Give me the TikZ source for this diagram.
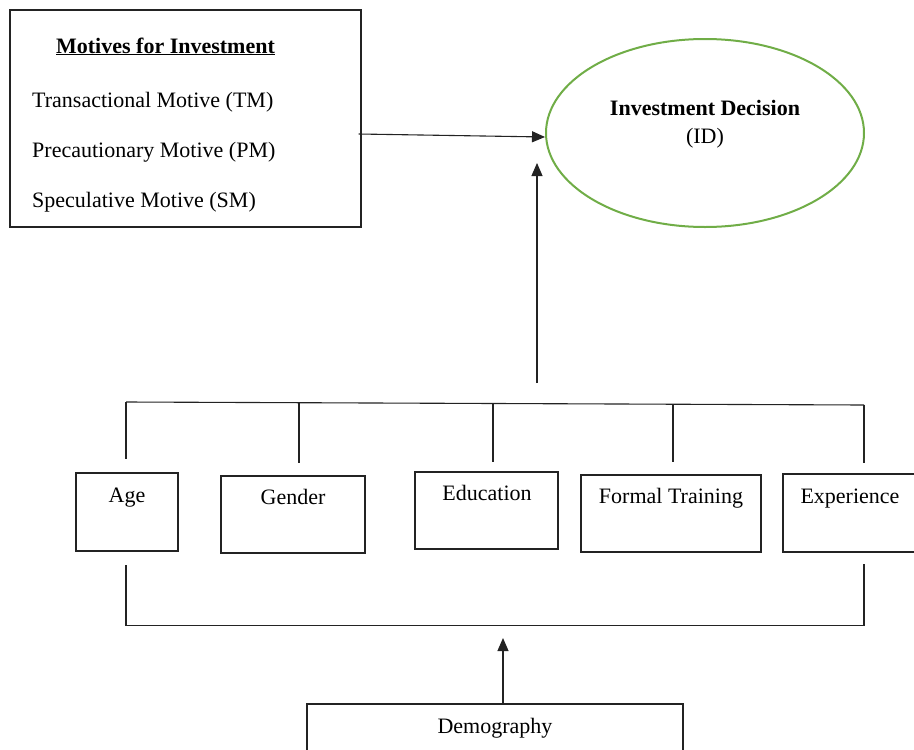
\documentclass[tikz,border=0pt]{standalone}
\usepackage{fontspec}
\setmainfont{Liberation Serif}
\usetikzlibrary{arrows.meta,shapes.geometric}
\definecolor{idgreen}{RGB}{112,173,71}
\definecolor{linegray}{RGB}{35,35,35}
\begin{document}
\begin{tikzpicture}[x=1pt,y=-1pt,
  every node/.style={font=\fontsize{22}{26}\selectfont},
  box/.style={draw=linegray,line width=1.3pt,inner sep=0pt,rectangle},
  lbl/.style={anchor=base,inner sep=0pt},
  lblw/.style={anchor=base west,inner sep=0pt},
  conn/.style={draw=linegray,line width=1.1pt},
  arr/.style={conn,-{Triangle[length=13pt,width=11pt]}}]
\useasboundingbox (0,0) rectangle (914,750);
% boxes
\node[box,minimum width=351pt,minimum height=217pt] (motives) at (185.5,118.5) {};
\node[ellipse,draw=idgreen,line width=2pt,inner sep=0pt,minimum width=318pt,minimum height=188pt] (id) at (705,133) {};
\node[box,minimum width=102pt,minimum height=78pt] (age) at (127,512) {};
\node[box,minimum width=144pt,minimum height=77pt] (gender) at (293,514.5) {};
\node[box,minimum width=143pt,minimum height=77pt] (edu) at (486.5,510.5) {};
\node[box,minimum width=180pt,minimum height=77pt] (formal) at (671,513.5) {};
\node[box,minimum width=147pt,minimum height=78pt] (exp) at (856.5,513) {};
\node[box,minimum width=376pt,minimum height=86pt] (demog) at (495,747) {};
% texts
\node[lbl] (mtitle) at (165.5,53) {\bfseries\underline{Motives for Investment}};
\node[lblw] (tm) at (32,107) {Transactional Motive (TM)};
\node[lblw] (pm) at (32,157) {Precautionary Motive (PM)};
\node[lblw] (sm) at (32,207) {Speculative Motive (SM)};
\node[lbl] (idtitle) at (705,115) {\bfseries Investment Decision};
\node[lbl] (idabbr) at (705,143) {(ID)};
\node[lbl] (agetxt) at (127,502) {Age};
\node[lbl] (gentxt) at (293,504) {Gender};
\node[lbl] (edutxt) at (487,500) {Education};
\node[lbl] (fortxt) at (671,503) {Formal Training};
\node[lbl] (exptxt) at (850,503) {Experience};
\node[lbl] (demtxt) at (495,733) {Demography};
% coordinates
\coordinate (busup) at (537,383);
\coordinate (idin) at (537,163);
\coordinate (barA) at (126,402);
\coordinate (barG) at (299,402.7);
\coordinate (barE) at (493,403.5);
\coordinate (barF) at (673,404.2);
\coordinate (barX) at (864,405);
\coordinate (dropA) at (126,459);
\coordinate (dropG) at (299,463);
\coordinate (dropE) at (493,462);
\coordinate (dropF) at (673,462);
\coordinate (dropX) at (864,463);
\coordinate (botA) at (126,565);
\coordinate (botX) at (864,564);
\coordinate (cornA) at (126,625.5);
\coordinate (cornX) at (864,625.5);
\coordinate (demtip) at (503,638);
% connectors
\draw[arr] ([xshift=-3pt,yshift=-15.5pt]motives.east) -- ([yshift=-4pt]id.west);
\draw[arr] (busup) -- (idin);
\draw[conn] (barA) -- (barX);
\draw[conn] (barA) -- (dropA);
\draw[conn] (barG) -- (dropG);
\draw[conn] (barE) -- (dropE);
\draw[conn] (barF) -- (dropF);
\draw[conn] (barX) -- (dropX);
\draw[conn] (botA) -- (cornA) -- (cornX) -- (botX);
\draw[arr] ([xshift=8pt]demog.north) -- (demtip);
\end{tikzpicture}
\end{document}
